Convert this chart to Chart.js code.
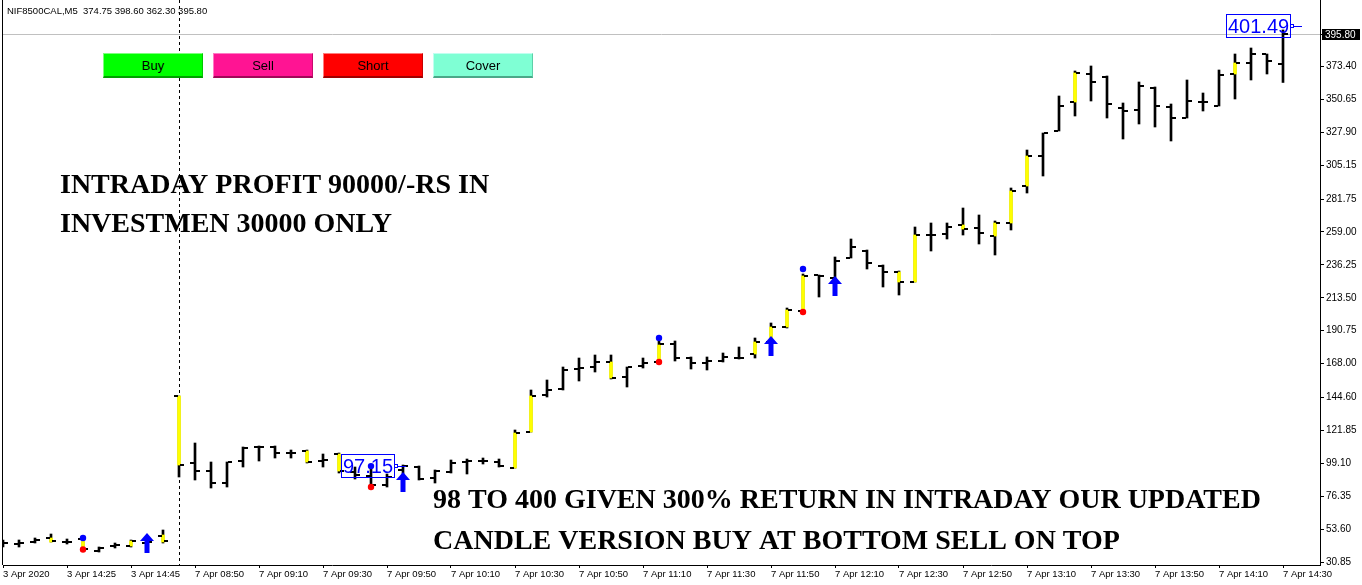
<!DOCTYPE html>
<html>
<head>
<meta charset="utf-8">
<script src="https://cdn.jsdelivr.net/npm/chart.js@4/dist/chart.umd.min.js"></script>
<style>
  html, body { margin: 0; padding: 0; background: #fff; overflow: hidden; }
  #wrap { position: relative; width: 1362px; height: 585px; }
  canvas { display: block; }
  .btn {
    position: absolute; top: 53px; width: 100px; height: 25px; box-sizing: border-box;
    display: flex; align-items: center; justify-content: center;
    font: 13px "Liberation Sans", Arial, sans-serif; color: #000;
    border-style: solid; border-width: 1px 1px 2px 1px;
  }
</style>
</head>
<body>
<div id="wrap">
  <canvas id="c" width="1362" height="585"></canvas>
  <div class="btn" style="left:103px;background:#00ff00;border-color:#7dff7d #00c800 #00a000 #7dff7d">Buy</div>
  <div class="btn" style="left:213px;background:#ff1493;border-color:#ff7ac4 #c80a6e #a00858 #ff7ac4">Sell</div>
  <div class="btn" style="left:323px;background:#ff0000;border-color:#ff7d7d #c80000 #a00000 #ff7d7d">Short</div>
  <div class="btn" style="left:433px;background:#7fffd4;border-color:#c0fff0 #5ecfa8 #4aa888 #c0fff0">Cover</div>
</div>
<script>
// NIF8500CAL, 5-minute bars, 3 Apr 2020 14:05 -> 7 Apr 2020 14:30
const symbol = 'NIF8500CAL,M5';

const barTimes = [
  '3 Apr 14:05','3 Apr 14:10','3 Apr 14:15','3 Apr 14:20','3 Apr 14:25','3 Apr 14:30',
  '3 Apr 14:35','3 Apr 14:40','3 Apr 14:45','3 Apr 14:50','3 Apr 14:55',
  '7 Apr 08:45','7 Apr 08:50','7 Apr 08:55','7 Apr 09:00','7 Apr 09:05','7 Apr 09:10',
  '7 Apr 09:15','7 Apr 09:20','7 Apr 09:25','7 Apr 09:30','7 Apr 09:35','7 Apr 09:40',
  '7 Apr 09:45','7 Apr 09:50','7 Apr 09:55','7 Apr 10:00','7 Apr 10:05','7 Apr 10:10',
  '7 Apr 10:15','7 Apr 10:20','7 Apr 10:25','7 Apr 10:30','7 Apr 10:35','7 Apr 10:40',
  '7 Apr 10:45','7 Apr 10:50','7 Apr 10:55','7 Apr 11:00','7 Apr 11:05','7 Apr 11:10',
  '7 Apr 11:15','7 Apr 11:20','7 Apr 11:25','7 Apr 11:30','7 Apr 11:35','7 Apr 11:40',
  '7 Apr 11:45','7 Apr 11:50','7 Apr 11:55','7 Apr 12:00','7 Apr 12:05','7 Apr 12:10',
  '7 Apr 12:15','7 Apr 12:20','7 Apr 12:25','7 Apr 12:30','7 Apr 12:35','7 Apr 12:40',
  '7 Apr 12:45','7 Apr 12:50','7 Apr 12:55','7 Apr 13:00','7 Apr 13:05','7 Apr 13:10',
  '7 Apr 13:15','7 Apr 13:20','7 Apr 13:25','7 Apr 13:30','7 Apr 13:35','7 Apr 13:40',
  '7 Apr 13:45','7 Apr 13:50','7 Apr 13:55','7 Apr 14:00','7 Apr 14:05','7 Apr 14:10',
  '7 Apr 14:15','7 Apr 14:20','7 Apr 14:25','7 Apr 14:30'
];

const openP = [
  43.98, 43.29, 44.67, 47.44, 44.67, 46.75, 38.45, 41.91, 41.91, 43.98, 48.82,
  145.59, 99.28, 93.75, 85.45, 100.66, 110.34, 110.34, 106.19, 107.57, 100.66, 105.50,
  93.06, 90.29, 84.07, 94.44, 96.51, 88.91, 93.06, 99.97, 100.66, 99.97,
  95.82, 120.71, 146.28, 150.43, 164.25, 165.63, 169.09, 158.72, 166.33, 169.09,
  181.53, 171.85, 168.40, 169.78, 171.85, 174.62, 182.91, 193.28, 204.34, 229.22,
  227.15, 240.97, 245.81, 235.45, 231.30, 224.39, 256.87, 257.56, 263.78, 261.71,
  256.18, 265.17, 290.74, 311.48, 328.76, 348.80, 368.16, 366.08, 344.65, 343.27,
  358.48, 345.35, 337.74, 348.80, 346.04, 368.16, 375.76, 381.98, 374.75
];
const highP = [
  46.06, 46.06, 47.44, 50.20, 46.75, 47.44, 41.22, 43.98, 46.06, 46.06, 52.97,
  145.59, 113.10, 99.97, 99.97, 110.34, 111.03, 111.03, 108.26, 108.26, 105.50, 106.19,
  96.51, 97.15, 91.68, 97.90, 97.21, 94.44, 101.35, 102.04, 102.73, 102.04,
  122.09, 149.74, 156.65, 165.63, 171.85, 173.93, 173.93, 165.63, 171.85, 183.61,
  183.61, 172.55, 172.55, 175.31, 179.46, 185.68, 196.05, 206.41, 229.92, 229.22,
  241.67, 254.11, 246.50, 236.14, 231.99, 262.40, 265.17, 265.17, 275.53, 270.70,
  266.55, 289.36, 315.62, 327.37, 352.95, 370.23, 373.69, 366.77, 348.11, 362.63,
  359.17, 347.42, 364.01, 355.02, 370.92, 381.98, 386.13, 381.98, 398.60
];
const lowP = [
  41.22, 41.22, 43.98, 44.67, 43.29, 39.14, 37.76, 40.53, 41.22, 41.91, 43.98,
  89.60, 87.53, 82.00, 82.69, 96.51, 100.66, 102.73, 102.73, 99.28, 96.51, 92.37,
  88.22, 82.69, 82.69, 91.68, 87.53, 85.45, 92.37, 91.68, 98.59, 96.51,
  95.82, 120.71, 144.90, 149.74, 155.96, 162.18, 157.34, 151.81, 164.94, 168.40,
  169.78, 164.25, 163.56, 169.09, 171.16, 171.85, 181.53, 192.59, 203.65, 214.02,
  225.77, 240.97, 233.37, 220.93, 215.40, 224.39, 245.81, 254.11, 256.87, 250.65,
  243.05, 260.33, 285.90, 297.65, 328.76, 339.13, 349.49, 337.74, 323.23, 333.60,
  331.52, 321.85, 337.74, 342.58, 346.04, 350.88, 364.01, 368.16, 362.30
];
const closeP = [
  43.98, 43.98, 46.06, 45.37, 44.67, 39.84, 40.53, 42.60, 45.37, 44.67, 45.37,
  97.90, 93.75, 85.45, 99.97, 109.65, 110.34, 106.19, 106.19, 99.97, 101.35, 93.75,
  90.98, 84.07, 89.60, 97.21, 88.22, 93.75, 99.28, 100.66, 100.66, 97.21,
  120.01, 145.59, 149.74, 163.56, 164.94, 169.09, 158.03, 165.63, 168.40, 181.53,
  171.85, 168.40, 169.78, 172.55, 171.85, 182.91, 193.28, 205.03, 228.53, 228.53,
  238.90, 248.58, 237.52, 231.30, 224.39, 256.87, 256.87, 262.40, 261.02, 258.25,
  265.17, 287.29, 311.48, 327.37, 346.04, 368.85, 362.63, 347.42, 342.58, 359.86,
  346.04, 337.74, 349.49, 348.80, 367.46, 375.76, 381.98, 377.14, 395.80
];

// "candle version" highlight: bar index -> [from, to]
const hiliteBars = [3, 5, 8, 10, 11, 19, 21, 32, 33, 38, 41, 47, 48, 49, 50, 56, 57, 60, 62, 63, 64, 67, 77];
const hiliteFrom = [44.67, 39.84, 41.91, 44.67, 97.90, 99.97, 93.75, 95.82, 120.71, 158.03, 169.09, 174.62,
                    182.91, 193.28, 204.34, 224.39, 224.39, 261.02, 256.18, 265.17, 290.74, 348.80, 368.16];
const hiliteTo   = [47.44, 46.75, 45.37, 49.51, 145.59, 107.57, 105.50, 120.01, 145.59, 169.09, 180.84, 182.91,
                    193.28, 205.03, 228.53, 231.30, 256.87, 263.78, 265.17, 287.29, 311.48, 368.85, 375.76];

// swing markers
const dotBars    = [5, 23, 41, 50];
const topDots    = [47.44, 97.15, 185.68, 233.37];
const bottomDots = [39.50, 82.69, 169.09, 203.65];

// buy arrows
const arrowBars   = [9, 25, 48, 52];
const arrowLevels = [44.33, 86.15, 180.15, 221.60];

// price tags
const tagBars   = [24, 80];
const tagValues = [97.15, 401.49];

const bidPrice = 395.80;
const daySplitBar = 11;

const xTickLabels = [
  '3 Apr 2020', '3 Apr 14:25', '3 Apr 14:45', '7 Apr 08:50', '7 Apr 09:10', '7 Apr 09:30', '7 Apr 09:50',
  '7 Apr 10:10', '7 Apr 10:30', '7 Apr 10:50', '7 Apr 11:10', '7 Apr 11:30', '7 Apr 11:50', '7 Apr 12:10',
  '7 Apr 12:30', '7 Apr 12:50', '7 Apr 13:10', '7 Apr 13:30', '7 Apr 13:50', '7 Apr 14:10', '7 Apr 14:30'
];
const yTickLabels = [30.85, 53.60, 76.35, 99.10, 121.85, 144.60, 168.00, 190.75, 213.50, 236.25,
                     259.00, 281.75, 305.15, 327.90, 350.65, 373.40, 395.80];

const textTop = ['INTRADAY PROFIT 90000/-RS IN', 'INVESTMEN 30000 ONLY'];
const textBottom = ['98 TO 400 GIVEN 300% RETURN IN INTRADAY OUR UPDATED', 'CANDLE VERSION BUY AT BOTTOM SELL ON TOP'];

// bar index of each x tick label
const xTickAt = xTickLabels.map((lab, k) => {
  const i = barTimes.indexOf(lab);
  return i >= 0 ? i : (k === 0 ? 0 : -1);
});

// ---- point glyphs ----
function glyph(w, h, paint) {
  const c = document.createElement('canvas');
  c.width = w; c.height = h;
  paint(c.getContext('2d'));
  return c;
}
const openTick = glyph(12, 2, g => { g.fillStyle = '#000'; g.fillRect(1, 0, 4, 2); });
const closeTick = glyph(12, 2, g => { g.fillStyle = '#000'; g.fillRect(7, 0, 4, 2); });
const upArrow = glyph(16, 20, g => {
  g.fillStyle = '#0000ff';
  g.beginPath();
  g.moveTo(8, 0); g.lineTo(15, 8); g.lineTo(10.5, 8); g.lineTo(10.5, 20);
  g.lineTo(5.5, 20); g.lineTo(5.5, 8); g.lineTo(1, 8); g.closePath();
  g.fill();
});

const idx = barTimes.map((t, i) => i);

function noPad(s) { s.paddingTop = 0; s.paddingBottom = 0; s.paddingLeft = 0; s.paddingRight = 0; }

const overlay = {
  id: 'overlay',
  beforeDatasetsDraw(chart) {
    const { ctx, chartArea: a, scales: { x, y } } = chart;
    ctx.save();
    ctx.fillStyle = '#000';
    ctx.fillRect(a.left - 1, 0, 1, a.bottom);
    ctx.fillRect(a.right, 0, 1, a.top);
    const by = Math.round(y.getPixelForValue(bidPrice)) + 0.5;
    ctx.strokeStyle = '#c0c0c0'; ctx.lineWidth = 1;
    ctx.beginPath(); ctx.moveTo(a.left, by); ctx.lineTo(a.right, by); ctx.stroke();
    const sx = Math.round(x.getPixelForValue(daySplitBar)) + 0.5;
    ctx.strokeStyle = '#000'; ctx.setLineDash([3, 3]);
    ctx.beginPath(); ctx.moveTo(sx, 0); ctx.lineTo(sx, a.bottom); ctx.stroke();
    ctx.restore();
    ctx.imageSmoothingEnabled = false;
  },
  afterDraw(chart) {
    const { ctx, chartArea: a, scales: { x, y } } = chart;
    ctx.save();
    // header
    ctx.fillStyle = '#000';
    ctx.font = '9.5px "Liberation Sans", Arial, sans-serif';
    ctx.textBaseline = 'middle'; ctx.textAlign = 'left';
    const n = openP.length - 1;
    ctx.fillText(symbol + '  ' + [openP[n], highP[n], lowP[n], closeP[n]].map(v => v.toFixed(2)).join(' '), 7, 11);

    // captions
    ctx.font = 'bold 28px "Liberation Serif", "Times New Roman", serif';
    ctx.textBaseline = 'alphabetic';
    ctx.fillText(textTop[0], 60, 193);
    ctx.fillText(textTop[1], 60, 232);
    ctx.fillText(textBottom[0], 433, 508);
    ctx.fillText(textBottom[1], 433, 549);

    // price tags
    ctx.font = '20px "Liberation Sans", Arial, sans-serif';
    ctx.textBaseline = 'middle';
    ctx.strokeStyle = '#0000ff'; ctx.fillStyle = '#0000ff'; ctx.lineWidth = 1;
    tagBars.forEach((b, k) => {
      const txt = tagValues[k].toFixed(2);
      const ax = Math.round(x.getPixelForValue(b)) + 7;
      const ay = Math.round(y.getPixelForValue(tagValues[k]));
      const w = Math.round(ctx.measureText(txt).width) + 3;
      const h = 23;
      ctx.strokeRect(ax - w + 0.5, ay - 12 + 0.5, w, h);
      ctx.fillText(txt, ax - w + 2, ay + 1);
      ctx.strokeRect(ax + 0.5, ay - 2 + 0.5, 3, 3);
      ctx.beginPath(); ctx.moveTo(ax + 4, ay + 0.5); ctx.lineTo(ax + 12, ay + 0.5); ctx.stroke();
    });

    // bid price on the axis
    const by = Math.round(y.getPixelForValue(bidPrice));
    ctx.fillStyle = '#000';
    ctx.fillRect(a.right + 2, by - 5, 38, 11);
    ctx.fillStyle = '#fff';
    ctx.font = '10px "Liberation Sans", Arial, sans-serif';
    ctx.textBaseline = 'middle';
    ctx.fillText(bidPrice.toFixed(2), a.right + 5, by + 1);
    ctx.restore();
  }
};

new Chart(document.getElementById('c'), {
  type: 'bar',
  data: {
    datasets: [
      {
        type: 'scatter', label: 'buy arrow', order: 1,
        data: arrowBars.map((b, k) => ({ x: b, y: arrowLevels[k] })),
        pointStyle: upArrow, pointRadius: 5
      },
      {
        type: 'scatter', label: 'top', order: 2,
        data: dotBars.map((b, k) => ({ x: b, y: topDots[k] })),
        pointStyle: 'circle', pointRadius: 3.2, backgroundColor: '#0000ff', borderWidth: 0
      },
      {
        type: 'scatter', label: 'bottom', order: 2,
        data: dotBars.map((b, k) => ({ x: b, y: bottomDots[k] })),
        pointStyle: 'circle', pointRadius: 3.2, backgroundColor: '#ff0000', borderWidth: 0
      },
      {
        type: 'scatter', label: 'open', order: 3,
        data: idx.map(i => ({ x: i, y: openP[i] })),
        pointStyle: openTick, pointRadius: 3
      },
      {
        type: 'scatter', label: 'close', order: 3,
        data: idx.map(i => ({ x: i, y: closeP[i] })),
        pointStyle: closeTick, pointRadius: 3
      },
      {
        type: 'bar', label: 'highlight', order: 4, grouped: false,
        data: hiliteBars.map((b, k) => ({ x: b, y: [hiliteFrom[k], hiliteTo[k]] })),
        backgroundColor: '#ffff00', borderWidth: 0, barThickness: 3
      },
      {
        type: 'bar', label: 'range', order: 5, grouped: false,
        data: idx.map(i => ({ x: i, y: [lowP[i], highP[i]] })),
        backgroundColor: '#000000', borderWidth: 0, barThickness: 2
      }
    ]
  },
  options: {
    responsive: false,
    animation: false,
    events: [],
    layout: { autoPadding: false, padding: { top: 2, left: 3, right: 0, bottom: 0 } },
    plugins: { legend: { display: false }, tooltip: { enabled: false } },
    scales: {
      x: {
        type: 'linear', min: 0, max: 82.3125, offset: false,
        grid: { offset: false, drawOnChartArea: false, drawTicks: true, tickLength: 3, tickColor: '#000' },
        border: { display: true, color: '#000', width: 1 },
        ticks: {
          autoSkip: false, maxRotation: 0, align: 'start', padding: 1, color: '#000',
          font: { family: '"Liberation Sans", Arial, sans-serif', size: 9.5 },
          callback: (v, i) => xTickLabels[i]
        },
        afterBuildTicks: s => { s.ticks = xTickAt.filter(i => i >= 0).map(i => ({ value: i })); },
        afterFit: s => { s.height = 20; noPad(s); }
      },
      y: {
        type: 'linear', position: 'right', min: 28.78, max: 417.92, beginAtZero: false,
        grid: { drawOnChartArea: false, drawTicks: true, tickLength: 4, tickColor: '#000' },
        border: { display: true, color: '#000', width: 1 },
        ticks: {
          padding: 2, color: '#000',
          font: { family: '"Liberation Sans", Arial, sans-serif', size: 10 },
          callback: v => Number(v).toFixed(2)
        },
        afterBuildTicks: s => { s.ticks = yTickLabels.map(v => ({ value: v })); },
        afterFit: s => { s.width = 42; noPad(s); }
      }
    }
  },
  plugins: [overlay]
});
</script>
</body>
</html>
